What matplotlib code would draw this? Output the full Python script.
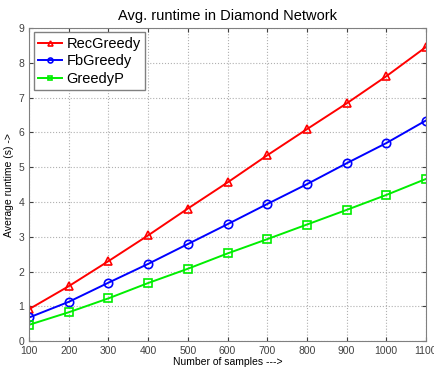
import numpy as np
import matplotlib
matplotlib.use("Agg")
import matplotlib.pyplot as plt

plt.rcParams['font.family'] = ['Liberation Sans', 'DejaVu Sans']

samples = [100, 200, 300, 400, 500, 600, 700, 800, 900, 1000, 1100]
rec_greedy = [0.92, 1.58, 2.30, 3.04, 3.81, 4.56, 5.34, 6.09, 6.83, 7.61, 8.45]
fb_greedy = [0.68, 1.13, 1.68, 2.22, 2.79, 3.36, 3.94, 4.51, 5.11, 5.69, 6.34]
greedy_p = [0.47, 0.83, 1.23, 1.67, 2.08, 2.52, 2.93, 3.35, 3.77, 4.20, 4.66]

fig = plt.figure(figsize=(4.35, 3.68), dpi=100)
ax = fig.add_axes([0.067, 0.073, 0.912, 0.851])

ax.plot(samples, rec_greedy, color='red', marker='^', mfc='none', mec='red',
        ms=6, mew=1.2, lw=1.4, label='RecGreedy')
ax.plot(samples, fb_greedy, color='blue', marker='o', mfc='none', mec='blue',
        ms=6, mew=1.2, lw=1.4, label='FbGreedy')
ax.plot(samples, greedy_p, color='#00ee00', marker='s', mfc='none', mec='#00ee00',
        ms=6, mew=1.2, lw=1.4, label='GreedyP')

ax.set_xlim(100, 1100)
ax.set_ylim(0, 9)
ax.set_xticks(samples)
ax.set_yticks(range(0, 10))
ax.grid(True, linestyle=':', color='#b0b0b0', lw=0.8)
ax.tick_params(direction='in', labelsize=7.5, length=3, colors='#404040',
               top=True, right=True)
for sp in ax.spines.values():
    sp.set_color('#808080')

ax.set_xlabel('Number of samples --->', fontsize=7.5, labelpad=1)
ax.set_ylabel('Average runtime (s) ->', fontsize=7.5, labelpad=3)
ax.set_title('Avg. runtime in Diamond Network', fontsize=10.5, pad=6)

leg = ax.legend(loc='upper left', fontsize=10.5, fancybox=False, framealpha=1,
                borderpad=0.3, handlelength=1.65, handletextpad=0.3,
                labelspacing=0.25, markerscale=0.6, borderaxespad=0.3)
leg.get_frame().set_edgecolor('#808080')
leg.get_frame().set_linewidth(1.0)

fig.savefig('out.png', dpi=100)
